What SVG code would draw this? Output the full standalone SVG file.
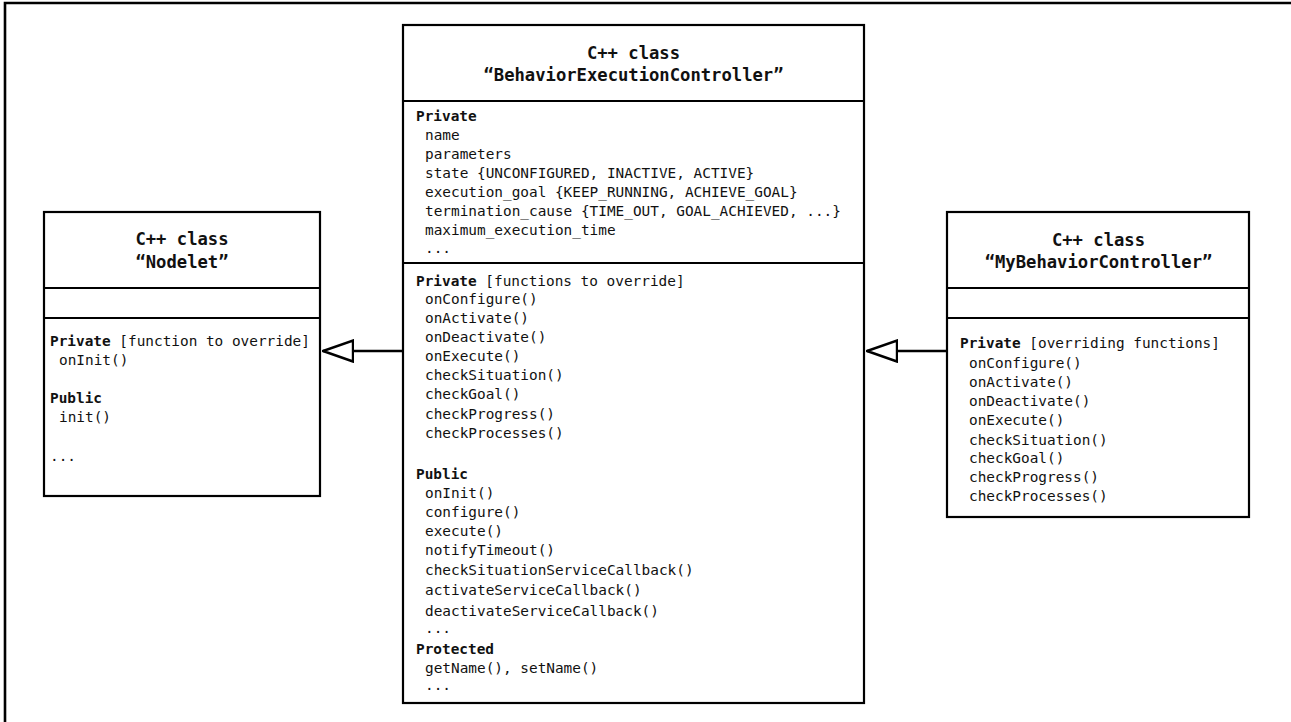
<svg xmlns="http://www.w3.org/2000/svg" width="1291" height="722" viewBox="0 0 1291 722">
<style>
.box{fill:#fff;stroke:#000;stroke-width:2.2}
.div{stroke:#000;stroke-width:2}
.frame{stroke:#000;stroke-width:2.6;fill:none}
text{font-family:"DejaVu Sans Mono","Liberation Mono",monospace;fill:#111}
.hd{font-size:17.2px;font-weight:bold;text-anchor:middle}
.t{font-size:14.4px}
.b{font-weight:bold}
.conn{stroke:#000;stroke-width:2.4;fill:none}
</style>
<defs>
<marker id="inherit" markerUnits="userSpaceOnUse" markerWidth="32" markerHeight="24" viewBox="-1 -1 32 24" refX="30" refY="10.5" orient="auto">
<path d="M0,0 L30,10.5 L0,21 Z" fill="#fff" stroke="#000" stroke-width="2.4"/>
</marker>
</defs>
<rect width="1291" height="722" fill="#fff"/>
<path class="frame" d="M5,722 V3 H1291"/>

<g id="nodelet">
<rect class="box" x="44" y="212" width="276" height="284"/>
<line class="div" x1="44" y1="288" x2="320" y2="288"/>
<line class="div" x1="44" y1="318" x2="320" y2="318"/>
<text class="hd" x="182" y="245">C++ class</text>
<text class="hd" x="182" y="267.5">“Nodelet”</text>
<text class="t" x="50" y="345.5"><tspan class="b">Private</tspan> [function to override]</text>
<text class="t" x="59" y="365">onInit()</text>
<text class="t b" x="50" y="403">Public</text>
<text class="t" x="59" y="422">init()</text>
<text class="t" x="50" y="461">...</text>
</g>

<g id="behaviorExecutionController">
<rect class="box" x="403" y="25" width="461" height="678"/>
<line class="div" x1="403" y1="101" x2="864" y2="101"/>
<line class="div" x1="403" y1="263" x2="864" y2="263"/>
<text class="hd" x="633.5" y="58.5">C++ class</text>
<text class="hd" x="633.5" y="81">“BehaviorExecutionController”</text>
<text class="t b" x="416" y="121">Private</text>
<text class="t" x="425" y="139.5">name</text>
<text class="t" x="425" y="158.5">parameters</text>
<text class="t" x="425" y="177.5">state {UNCONFIGURED, INACTIVE, ACTIVE}</text>
<text class="t" x="425" y="196.5">execution_goal {KEEP_RUNNING, ACHIEVE_GOAL}</text>
<text class="t" x="425" y="215.5">termination_cause {TIME_OUT, GOAL_ACHIEVED, ...}</text>
<text class="t" x="425" y="234.5">maximum_execution_time</text>
<text class="t" x="425" y="253">...</text>
<text class="t" x="416" y="285.5"><tspan class="b">Private</tspan> [functions to override]</text>
<text class="t" x="425" y="304">onConfigure()</text>
<text class="t" x="425" y="323">onActivate()</text>
<text class="t" x="425" y="342">onDeactivate()</text>
<text class="t" x="425" y="361">onExecute()</text>
<text class="t" x="425" y="380.3">checkSituation()</text>
<text class="t" x="425" y="399.4">checkGoal()</text>
<text class="t" x="425" y="418.5">checkProgress()</text>
<text class="t" x="425" y="437.6">checkProcesses()</text>
<text class="t b" x="416" y="479">Public</text>
<text class="t" x="425" y="497.5">onInit()</text>
<text class="t" x="425" y="517">configure()</text>
<text class="t" x="425" y="536">execute()</text>
<text class="t" x="425" y="555">notifyTimeout()</text>
<text class="t" x="425" y="575">checkSituationServiceCallback()</text>
<text class="t" x="425" y="595">activateServiceCallback()</text>
<text class="t" x="425" y="616">deactivateServiceCallback()</text>
<text class="t" x="425" y="633">...</text>
<text class="t b" x="416" y="654">Protected</text>
<text class="t" x="425" y="673">getName(), setName()</text>
<text class="t" x="425" y="690">...</text>
</g>

<g id="myBehaviorController">
<rect class="box" x="947" y="212" width="302" height="305"/>
<line class="div" x1="947" y1="288" x2="1249" y2="288"/>
<line class="div" x1="947" y1="318" x2="1249" y2="318"/>
<text class="hd" x="1098.5" y="246">C++ class</text>
<text class="hd" x="1098.5" y="268">“MyBehaviorController”</text>
<text class="t" x="960" y="348"><tspan class="b">Private</tspan> [overriding functions]</text>
<text class="t" x="969" y="368">onConfigure()</text>
<text class="t" x="969" y="387">onActivate()</text>
<text class="t" x="969" y="406">onDeactivate()</text>
<text class="t" x="969" y="425">onExecute()</text>
<text class="t" x="969" y="444.5">checkSituation()</text>
<text class="t" x="969" y="463">checkGoal()</text>
<text class="t" x="969" y="482">checkProgress()</text>
<text class="t" x="969" y="501">checkProcesses()</text>
</g>

<g id="connectors">
<line class="conn" x1="403" y1="351" x2="323" y2="351" marker-end="url(#inherit)"/>
<line class="conn" x1="947" y1="351" x2="867" y2="351" marker-end="url(#inherit)"/>
</g>
</svg>
